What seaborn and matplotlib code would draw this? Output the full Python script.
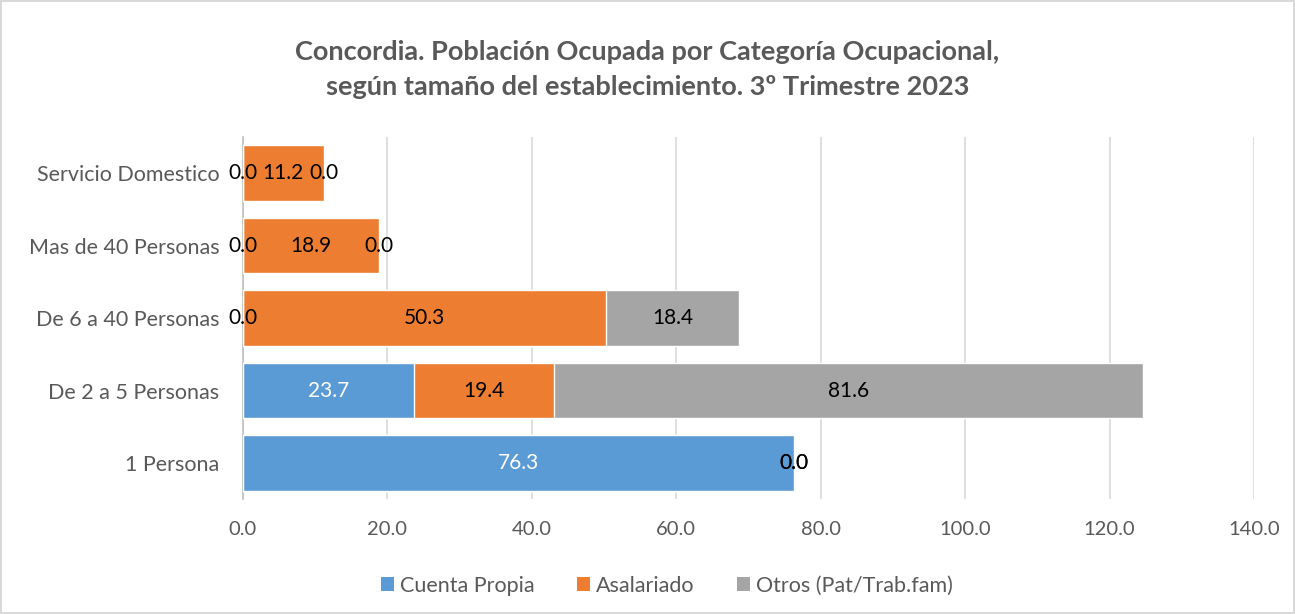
import pandas as pd
import matplotlib.pyplot as plt
import seaborn as sns
from matplotlib.patches import Patch

# data (top to bottom as shown)
categorias = ['Servicio Domestico', 'Mas de 40 Personas', 'De 6 a 40 Personas',
              'De 2 a 5 Personas', '1 Persona']
cuenta_propia = [0.0, 0.0, 0.0, 23.7, 76.3]
asalariado = [11.2, 18.9, 50.3, 19.4, 0.0]
otros = [0.0, 0.0, 18.4, 81.6, 0.0]

series = ['Cuenta Propia', 'Asalariado', 'Otros (Pat/Trab.fam)']
colores = ['#5B9BD5', '#ED7D31', '#A5A5A5']

df = pd.DataFrame({'cat': categorias, 'cp': cuenta_propia,
                   'as': asalariado, 'ot': otros})
df['cum1'] = df['cp']
df['cum2'] = df['cp'] + df['as']
df['cum3'] = df['cum2'] + df['ot']

sns.set_style('white')
plt.rcParams['font.family'] = ['Lato', 'DejaVu Sans']
gris = '#595959'

fig, ax = plt.subplots(figsize=(12.95, 6.14), dpi=100)
fig.patch.set_edgecolor('#d9d9d9')
fig.patch.set_linewidth(1.5)
fig.subplots_adjust(left=0.1876, right=0.9683, top=0.777, bottom=0.187)

# stacked via cumulative totals, drawn back to front
for col, color in zip(['cum3', 'cum2', 'cum1'], colores[::-1]):
    sns.barplot(data=df, x=col, y='cat', order=categorias, color=color,
                width=0.77, saturation=1, ax=ax, zorder=3)

# labels at segment centres
izq = [[0] * 5, list(df['cum1']), list(df['cum2'])]
vals = [cuenta_propia, asalariado, otros]
for s in range(3):
    for i in range(5):
        v = vals[s][i]
        xc = izq[s][i] + v / 2
        col = 'white' if (s == 0 and v > 0) else 'black'
        ax.text(xc, i, f'{v:.1f}', ha='center', va='center',
                fontsize=15, color=col, zorder=5)

ax.set_xlim(0, 140)
ax.set_ylim(4.5, -0.5)
ax.set_xticks(range(0, 141, 20))
ax.set_xticklabels([f'{t:.1f}' for t in range(0, 141, 20)])
ax.grid(axis='x', color='#d9d9d9', linewidth=1.2, zorder=0)
ax.set_axisbelow(True)
ax.set_xlabel('')
ax.set_ylabel('')
ax.tick_params(axis='both', length=0, labelcolor=gris)
ax.tick_params(axis='x', pad=16, labelsize=14.5)
ax.tick_params(axis='y', pad=17, labelsize=15.5)
for side in ['top', 'right', 'bottom']:
    ax.spines[side].set_visible(False)
ax.spines['left'].set_color('#bfbfbf')
ax.spines['left'].set_linewidth(1.2)

fig.suptitle('Concordia. Población Ocupada por Categoría Ocupacional,\n'
             'según tamaño del establecimiento. 3º Trimestre 2023',
             x=0.5, y=0.935, fontsize=19.5, fontweight='bold', color=gris,
             linespacing=1.55)

handles = [Patch(facecolor=c, edgecolor='none') for c in colores]
fig.legend(handles, series, loc='center', bbox_to_anchor=(0.515, 0.046),
           ncol=3, frameon=False, fontsize=15.5, labelcolor=gris,
           handlelength=0.6, handleheight=0.6, handletextpad=0.25,
           columnspacing=2.0)

fig.savefig('out.png', dpi=100, edgecolor=fig.get_edgecolor())
